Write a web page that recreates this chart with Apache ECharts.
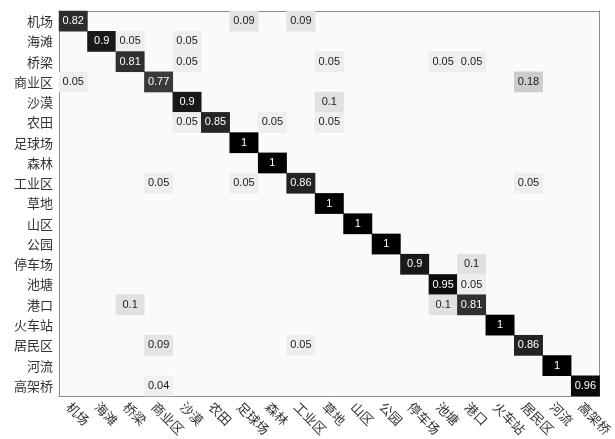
<!DOCTYPE html>
<html>
<head>
<meta charset="utf-8">
<script src="https://cdn.jsdelivr.net/npm/echarts@6/dist/echarts.min.js"></script>
<style>
    html, body { margin: 0; padding: 0; background: #fff; }
    #main { width: 615px; height: 439px; }
</style>
</head>
<body>
<div id="main"></div>
<script>
// class names, rows = true class, columns = predicted class
const classes = ['机场', '海滩', '桥梁', '商业区', '沙漠', '农田', '足球场', '森林', '工业区', '草地',
    '山区', '公园', '停车场', '池塘', '港口', '火车站', '居民区', '河流', '高架桥'];

const matrix = [
    [0.82, 0, 0, 0, 0, 0, 0.09, 0, 0.09, 0, 0, 0, 0, 0, 0, 0, 0, 0, 0],
    [0, 0.9, 0.05, 0, 0.05, 0, 0, 0, 0, 0, 0, 0, 0, 0, 0, 0, 0, 0, 0],
    [0, 0, 0.81, 0, 0.05, 0, 0, 0, 0, 0.05, 0, 0, 0, 0.05, 0.05, 0, 0, 0, 0],
    [0.05, 0, 0, 0.77, 0, 0, 0, 0, 0, 0, 0, 0, 0, 0, 0, 0, 0.18, 0, 0],
    [0, 0, 0, 0, 0.9, 0, 0, 0, 0, 0.1, 0, 0, 0, 0, 0, 0, 0, 0, 0],
    [0, 0, 0, 0, 0.05, 0.85, 0, 0.05, 0, 0.05, 0, 0, 0, 0, 0, 0, 0, 0, 0],
    [0, 0, 0, 0, 0, 0, 1, 0, 0, 0, 0, 0, 0, 0, 0, 0, 0, 0, 0],
    [0, 0, 0, 0, 0, 0, 0, 1, 0, 0, 0, 0, 0, 0, 0, 0, 0, 0, 0],
    [0, 0, 0, 0.05, 0, 0, 0.05, 0, 0.86, 0, 0, 0, 0, 0, 0, 0, 0.05, 0, 0],
    [0, 0, 0, 0, 0, 0, 0, 0, 0, 1, 0, 0, 0, 0, 0, 0, 0, 0, 0],
    [0, 0, 0, 0, 0, 0, 0, 0, 0, 0, 1, 0, 0, 0, 0, 0, 0, 0, 0],
    [0, 0, 0, 0, 0, 0, 0, 0, 0, 0, 0, 1, 0, 0, 0, 0, 0, 0, 0],
    [0, 0, 0, 0, 0, 0, 0, 0, 0, 0, 0, 0, 0.9, 0, 0.1, 0, 0, 0, 0],
    [0, 0, 0, 0, 0, 0, 0, 0, 0, 0, 0, 0, 0, 0.95, 0.05, 0, 0, 0, 0],
    [0, 0, 0.1, 0, 0, 0, 0, 0, 0, 0, 0, 0, 0, 0.1, 0.81, 0, 0, 0, 0],
    [0, 0, 0, 0, 0, 0, 0, 0, 0, 0, 0, 0, 0, 0, 0, 1, 0, 0, 0],
    [0, 0, 0, 0.09, 0, 0, 0, 0, 0.05, 0, 0, 0, 0, 0, 0, 0, 0.86, 0, 0],
    [0, 0, 0, 0, 0, 0, 0, 0, 0, 0, 0, 0, 0, 0, 0, 0, 0, 1, 0],
    [0, 0, 0, 0.04, 0, 0, 0, 0, 0, 0, 0, 0, 0, 0, 0, 0, 0, 0, 0.96]
];

// only non-zero cells are drawn, zeros stay background
const cells = [];
matrix.forEach((row, r) => {
    row.forEach((v, c) => {
        if (v > 0) cells.push([c, r, v]);
    });
});

const axisGray = '#8c8c8c';
const labelFont = '"Noto Sans CJK SC", sans-serif';

var myChart = echarts.init(document.getElementById('main'));
var option = {
    backgroundColor: '#ffffff',
    animation: false,
    grid: {
        left: 59, top: 11, right: 12, bottom: 43,
        show: true,
        backgroundColor: '#fafafa',
        borderWidth: 0
    },
    visualMap: {
        show: false,
        min: 0,
        max: 1,
        inRange: { color: ['#fafafa', '#000000'] }
    },
    xAxis: [
        {
            type: 'category',
            data: classes,
            position: 'bottom',
            axisLine: { lineStyle: { color: axisGray, width: 1 } },
            axisTick: { inside: true, alignWithLabel: true, length: 4, lineStyle: { color: axisGray } },
            axisLabel: {
                rotate: -45,
                interval: 0,
                margin: 4,
                verticalAlign: 'top',
                color: '#333',
                fontSize: 13,
                fontFamily: labelFont
            },
            splitLine: { show: false }
        },
        {
            type: 'category',
            data: classes,
            position: 'top',
            axisLine: { lineStyle: { color: axisGray, width: 1 } },
            axisTick: { inside: true, alignWithLabel: true, length: 4, lineStyle: { color: axisGray } },
            axisLabel: { show: false }
        }
    ],
    yAxis: [
        {
            type: 'category',
            data: classes,
            inverse: true,
            position: 'left',
            axisLine: { lineStyle: { color: axisGray, width: 1 } },
            axisTick: { inside: true, alignWithLabel: true, length: 4, lineStyle: { color: axisGray } },
            axisLabel: {
                interval: 0,
                margin: 6,
                color: '#333',
                fontSize: 13,
                fontFamily: labelFont
            },
            splitLine: { show: false }
        },
        {
            type: 'category',
            data: classes,
            inverse: true,
            position: 'right',
            axisLine: { lineStyle: { color: axisGray, width: 1 } },
            axisTick: { inside: true, alignWithLabel: true, length: 4, lineStyle: { color: axisGray } },
            axisLabel: { show: false }
        }
    ],
    series: [
        {
            name: 'confusion',
            type: 'heatmap',
            xAxisIndex: 0,
            yAxisIndex: 0,
            // light text on the dark cells
            data: cells.map(d => ({
                value: d,
                label: { color: d[2] > 0.5 ? '#ffffff' : '#1a1a1a' }
            })),
            label: {
                show: true,
                fontSize: 11,
                fontFamily: '"Liberation Sans", Arial, sans-serif',
                formatter: p => String(p.value[2])
            },
            itemStyle: { borderWidth: 0 },
            emphasis: { disabled: true }
        }
    ]
};

myChart.setOption(option);
</script>
</body>
</html>
